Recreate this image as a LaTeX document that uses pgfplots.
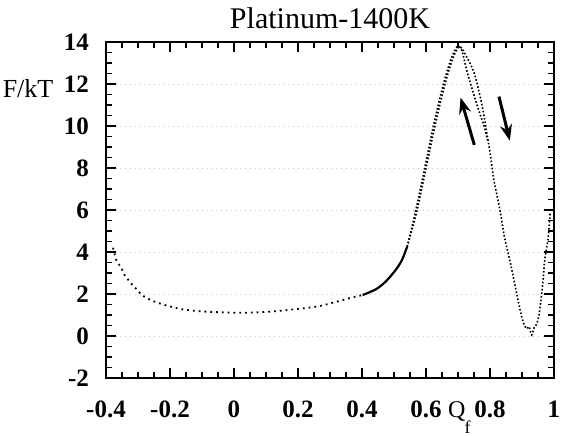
\documentclass[border=0pt]{standalone}
\usepackage{fontspec}
\setmainfont{Liberation Serif}
\usepackage{pgfplots}
\pgfplotsset{compat=1.18}
\usetikzlibrary{arrows.meta}

\begin{document}
\begin{tikzpicture}
\begin{axis}[
    scale only axis, width=224pt, height=168pt,
    xmin=-0.4, xmax=1, ymin=-2, ymax=14,
    xtick={-0.4,-0.2,0,0.2,0.4,0.6,0.8,1},
    ytick={-2,0,2,4,6,8,10,12,14},
    minor x tick num=3, minor y tick num=3,
    tick align=inside, major tick length=5pt, minor tick length=3pt,
    every tick/.style={black, line width=0.8pt},
    axis line style={line width=1.1pt},
    ymajorgrids, grid style={gray!45, dotted, line width=0.4pt},
    tick label style={font=\fontsize{12.5}{14}\selectfont\bfseries},
    /pgf/number format/assume math mode=true,
    xticklabel style={yshift=-8pt},
    yticklabel style={xshift=-5pt},
    clip=false,
]
% left well, sparse dots
\addplot[black, dotted, line width=0.9pt, smooth] coordinates {
  (-0.378,4.20) (-0.367,3.59) (-0.352,3.25) (-0.342,2.90) (-0.328,2.63)
  (-0.316,2.40) (-0.304,2.22) (-0.293,2.03) (-0.280,1.87) (-0.254,1.67)
  (-0.224,1.51) (-0.198,1.40) (-0.162,1.27) (-0.111,1.18) (-0.059,1.14)
  (-0.008,1.11) (0.043,1.11) (0.094,1.14) (0.146,1.20) (0.187,1.27)
  (0.218,1.32) (0.269,1.43) (0.320,1.63) (0.371,1.84) (0.402,1.95)
};
% dense stretch where both runs overlap
\addplot[black, line width=1.1pt, smooth] coordinates {
  (0.402,1.95) (0.443,2.22) (0.474,2.59) (0.505,3.14) (0.525,3.62)
  (0.541,4.25)
};
% run 1: up the barrier, back down the inner side
\addplot[black, densely dotted, line width=0.8pt, smooth] coordinates {
  (0.541,4.25) (0.566,5.84) (0.597,8.06) (0.626,10.20) (0.655,12.03)
  (0.677,13.14) (0.692,13.65) (0.700,13.80) (0.712,13.60) (0.730,12.50)
  (0.761,10.92) (0.782,9.97) (0.792,9.33)
};
% run 2: up the barrier, down into the second well and out
\addplot[black, densely dotted, line width=0.8pt, smooth] coordinates {
  (0.541,4.25) (0.570,5.84) (0.601,8.06) (0.631,10.20) (0.660,12.03)
  (0.682,13.14) (0.697,13.65) (0.706,13.78) (0.720,13.50) (0.751,12.50)
  (0.776,10.92) (0.792,9.49) (0.802,8.54) (0.812,7.43) (0.823,6.63)
  (0.833,5.84) (0.843,4.89) (0.853,4.17) (0.864,3.46) (0.879,2.35)
  (0.894,1.24) (0.905,0.60) (0.915,0.35) (0.922,0.45) (0.930,0.05)
  (0.938,0.40) (0.945,0.55) (0.952,0.90) (0.958,1.56) (0.966,2.67)
  (0.971,3.62) (0.982,4.70) (0.988,5.90)
};
\draw[black, line width=1.5pt, -{Stealth[length=8pt,width=6pt]}]
  (axis cs:0.751,9.1) -- (axis cs:0.708,11.35);
\draw[black, line width=1.5pt, -{Stealth[length=8pt,width=6pt]}]
  (axis cs:0.828,11.4) -- (axis cs:0.862,9.3);
\node[anchor=base, inner sep=0pt] at (rel axis cs:0.5,1.039)
  {\fontsize{15}{17}\selectfont Platinum-1400K};
\node at (rel axis cs:-0.174,0.86) {\fontsize{13}{15}\selectfont F/kT};
\node[anchor=base west, inner sep=0pt] at (rel axis cs:0.763,-0.119)
  {\fontsize{12}{14}\selectfont Q};
\node[anchor=base west, inner sep=0pt] at (rel axis cs:0.7995,-0.164)
  {\fontsize{9}{10}\selectfont f};
\end{axis}
\pgfresetboundingbox
\path[use as bounding box]
  ([shift={(-53pt,-29pt)}]current axis.south west)
  rectangle ([shift={(4.5pt,21pt)}]current axis.north east);
\end{tikzpicture}
\end{document}
